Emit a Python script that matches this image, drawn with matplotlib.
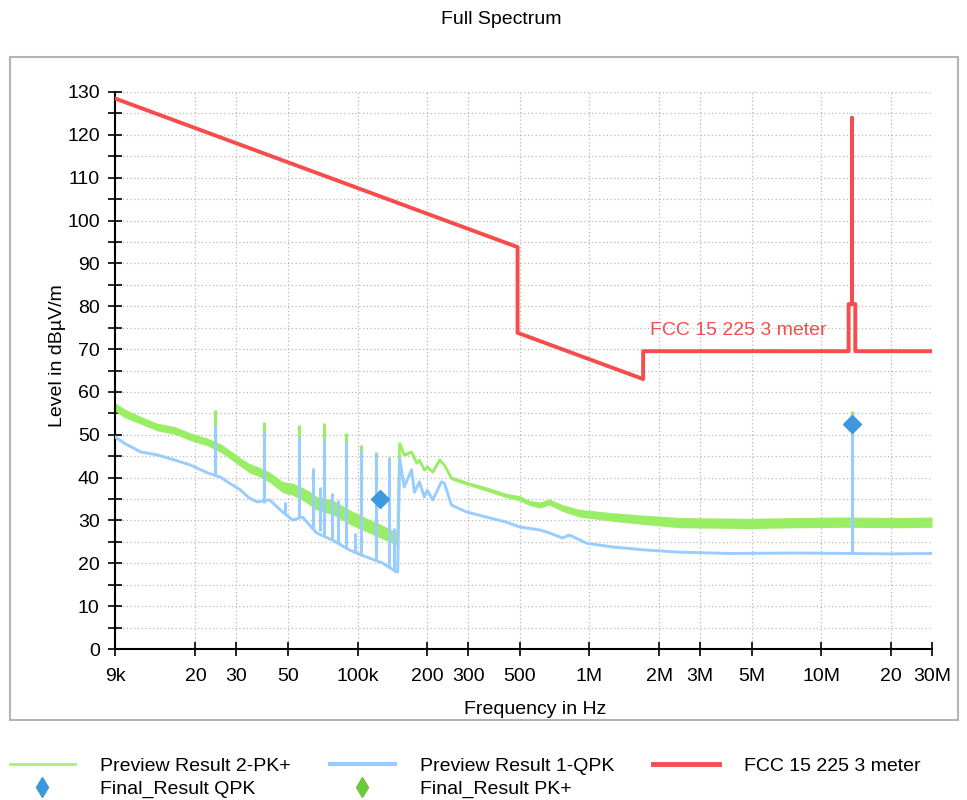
import matplotlib
matplotlib.use("Agg")
import matplotlib.pyplot as plt
from matplotlib.lines import Line2D
from matplotlib.patches import Rectangle
from matplotlib.ticker import NullLocator

plt.rcParams['font.family'] = ['Liberation Sans', 'DejaVu Sans']

# eje x
xtick_vals = [9e3, 20e3, 30e3, 50e3, 100e3, 200e3, 300e3, 500e3, 1e6, 2e6, 3e6, 5e6, 10e6, 20e6, 30e6]
xtick_labels = ['9k', '20', '30', '50', '100k', '200', '300', '500', '1M', '2M', '3M', '5M', '10M', '20', '30M']

# limite FCC 15.225 a 3 m
limit_freq = [9e3, 490e3, 490e3, 1.705e6, 1.705e6, 13.11e6, 13.11e6, 13.553e6,
              13.553e6, 13.567e6, 13.567e6, 14.01e6, 14.01e6, 30e6]
limit_level = [128.5, 93.8, 73.8, 63.0, 69.5, 69.5, 80.5, 80.5,
               124.0, 124.0, 80.5, 80.5, 69.5, 69.5]

# Preview Result 2-PK+ (nivel central y media anchura de la banda de ruido)
pk_freq = [9e3, 9.9e3, 11.6e3, 13.7e3, 16.3e3, 19.1e3, 22.6e3, 25.7e3, 27.5e3, 31.3e3, 34.2e3,
           37.1e3, 41.8e3, 47.5e3, 52.5e3, 57.9e3, 62.1e3, 66.6e3, 78e3, 92.4e3, 109e3, 128e3,
           147e3, 149e3, 152e3, 159e3, 171e3, 180e3, 185e3, 194e3, 200e3, 211e3, 226e3, 237e3,
           254e3, 295e3, 371e3, 439e3, 499e3, 551e3, 609e3, 672e3, 765e3, 906e3, 1.26e6, 1.76e6,
           2.44e6, 4.9e6, 8e6, 12.6e6, 21.7e6, 30e6]
pk_level = [56.5, 55.0, 53.4, 51.8, 51.0, 49.5, 48.3, 46.9, 45.8, 43.6, 42.2,
            41.5, 40.1, 37.8, 37.3, 36.2, 35.2, 34.0, 33.1, 30.8, 29.0, 27.3,
            25.8, 25.8, 48.0, 45.3, 46.0, 43.4, 44.1, 41.8, 42.5, 41.3, 44.1, 42.9,
            39.9, 38.7, 37.1, 35.8, 35.2, 34.1, 33.6, 34.3, 32.9, 31.7, 30.8, 30.1,
            29.5, 29.3, 29.5, 29.6, 29.5, 29.6]
pk_spread = [1.0, 1.0, 0.9, 0.9, 0.9, 0.9, 0.9, 1.0, 1.0, 1.0, 1.1,
             1.1, 1.2, 1.3, 1.4, 1.5, 1.6, 1.6, 1.7, 1.7, 1.6, 1.6,
             1.5, 0.3, 0.3, 0.3, 0.3, 0.3, 0.3, 0.3, 0.3, 0.3, 0.3, 0.3,
             0.4, 0.4, 0.5, 0.5, 0.6, 0.6, 0.7, 0.7, 0.8, 0.9, 1.0, 1.1,
             1.2, 1.2, 1.2, 1.2, 1.2, 1.2]
pk_spike_freq = [24.2e3, 39.7e3, 56.2e3, 71.4e3, 88.8e3, 104e3, 120e3, 137e3, 13.56e6]
pk_spike_base = [47.5, 40.8, 36.5, 33.6, 31.0, 29.5, 27.8, 26.2, 29.5]
pk_spike_top = [55.8, 53.0, 52.3, 52.7, 50.4, 47.6, 46.0, 44.8, 55.5]

# Preview Result 1-QPK
qpk_freq = [9e3, 9.9e3, 11.6e3, 13.7e3, 16.3e3, 19.1e3, 22.6e3, 25.7e3, 27.5e3, 31.3e3, 34.2e3,
            37.1e3, 41.8e3, 47.5e3, 52.5e3, 57.9e3, 66.6e3, 78e3, 92.4e3, 109e3, 128e3, 147e3,
            149e3, 152e3, 159e3, 171e3, 176e3, 185e3, 194e3, 200e3, 211e3, 230e3, 237e3, 254e3,
            295e3, 371e3, 439e3, 499e3, 609e3, 672e3, 765e3, 820e3, 971e3, 1.26e6, 1.76e6,
            2.44e6, 4e6, 8e6, 13e6, 20e6, 30e6]
qpk_level = [49.5, 48.0, 46.0, 45.3, 44.1, 42.9, 41.1, 40.1, 39.0, 37.1, 35.2,
             34.3, 34.8, 32.0, 30.1, 30.8, 27.1, 25.4, 23.1, 21.5, 20.1, 18.0,
             18.0, 44.5, 37.8, 41.8, 36.6, 39.0, 35.5, 37.1, 34.8, 39.0, 38.7, 33.6,
             32.0, 30.6, 29.6, 28.5, 27.8, 27.1, 25.9, 26.6, 24.7, 23.8, 23.1,
             22.6, 22.3, 22.4, 22.3, 22.2, 22.3]
qpk_spike_freq = [24.2e3, 39.7e3, 48.5e3, 56.2e3, 64e3, 68.6e3, 71.4e3, 77.3e3, 82e3, 88.8e3,
                  97.1e3, 104e3, 120e3, 137e3, 144e3, 13.56e6]
qpk_spike_base = [40.5, 34.0, 31.8, 30.5, 28.0, 27.5, 26.5, 25.5, 24.8, 23.6,
                  22.5, 21.8, 20.5, 19.0, 18.4, 22.3]
qpk_spike_top = [52.3, 50.6, 34.3, 49.5, 42.2, 37.8, 48.8, 36.4, 34.8, 48.3,
                 27.0, 46.4, 45.7, 44.6, 28.2, 52.5]

# Final_Result QPK
final_qpk_freq = [125e3, 13.56e6]
final_qpk_level = [35.0, 52.5]

green = '#99ee66'
blue = '#99ccff'
red = '#f84b4b'
dia_blue = '#3d98dc'
dia_green = '#6cc83c'

fig = plt.figure(figsize=(9.67, 8), dpi=100)
ax = fig.add_axes([0.1189, 0.18875, 0.8449, 0.69625])

fig.patches.append(Rectangle((0.0103, 0.1), 0.9803, 0.829, transform=fig.transFigure,
                             fill=False, edgecolor='#b4b4b4', lw=1.5))

lo = [l - s for l, s in zip(pk_level, pk_spread)]
hi = [l + s for l, s in zip(pk_level, pk_spread)]
ax.fill_between(pk_freq, lo, hi, color=green, lw=0, zorder=2)
ax.plot(pk_freq, pk_level, color=green, lw=2, zorder=2)
ax.vlines(pk_spike_freq, pk_spike_base, pk_spike_top, color=green, lw=2.2, zorder=2)

ax.plot(qpk_freq, qpk_level, color=blue, lw=2.1, zorder=3)
ax.vlines(qpk_spike_freq, qpk_spike_base, qpk_spike_top, color=blue, lw=2.2, zorder=3)

ax.plot(limit_freq, limit_level, color=red, lw=2.8, zorder=4)
ax.text(1.83e6, 72.4, 'FCC 15 225 3 meter', color=red, fontsize=14, va='bottom', ha='left', zorder=5)

ax.plot(final_qpk_freq, final_qpk_level, ls='none', marker='D', ms=9.5, color=dia_blue, zorder=6)

ax.set_xscale('log')
ax.set_xlim(9e3, 30e6)
ax.set_ylim(0, 130)
ax.set_xticks(xtick_vals)
ax.set_xticklabels(xtick_labels)
ax.xaxis.set_minor_locator(NullLocator())
ax.set_yticks(range(0, 131, 10))
ax.set_yticks(range(5, 130, 10), minor=True)
ax.tick_params(axis='both', which='both', direction='inout', length=10, width=1.2,
               labelsize=14, pad=6)
ax.tick_params(axis='x', pad=9)
for s in ['top', 'right']:
    ax.spines[s].set_visible(False)
for s in ['left', 'bottom']:
    ax.spines[s].set_linewidth(1.5)
ax.grid(True, which='both', axis='y', color='#b8b8b8', ls=(0, (1, 2)), lw=0.9)
ax.grid(True, which='major', axis='x', color='#b8b8b8', ls=(0, (1, 2)), lw=0.9)
ax.set_axisbelow(True)

fig.text(0.518, 1 - 19 / 800, 'Full Spectrum', ha='center', va='center', fontsize=14)
fig.text(0.553, 1 - 709 / 800, 'Frequency in Hz', ha='center', va='center', fontsize=14)
fig.text(0.059, 1 - 356 / 800, 'Level in dBµV/m', ha='center', va='center', rotation=90, fontsize=14)

handles = [Line2D([], [], color='#a6f07a', lw=2),
           Line2D([], [], ls='none', marker='d', ms=10, color=dia_blue),
           Line2D([], [], color=blue, lw=3),
           Line2D([], [], ls='none', marker='d', ms=10, color=dia_green),
           Line2D([], [], color=red, lw=3.5)]
labels = ['Preview Result 2-PK+', 'Final_Result QPK', 'Preview Result 1-QPK',
          'Final_Result PK+', 'FCC 15 225 3 meter']
fig.legend(handles, labels, loc='lower left', bbox_to_anchor=(-0.002, -0.012), ncol=3,
           frameon=False, fontsize=14, handlelength=3.35, handletextpad=1.3,
           columnspacing=2.0, labelspacing=0.28, borderaxespad=0.2)

fig.savefig('out.png', dpi=100)
